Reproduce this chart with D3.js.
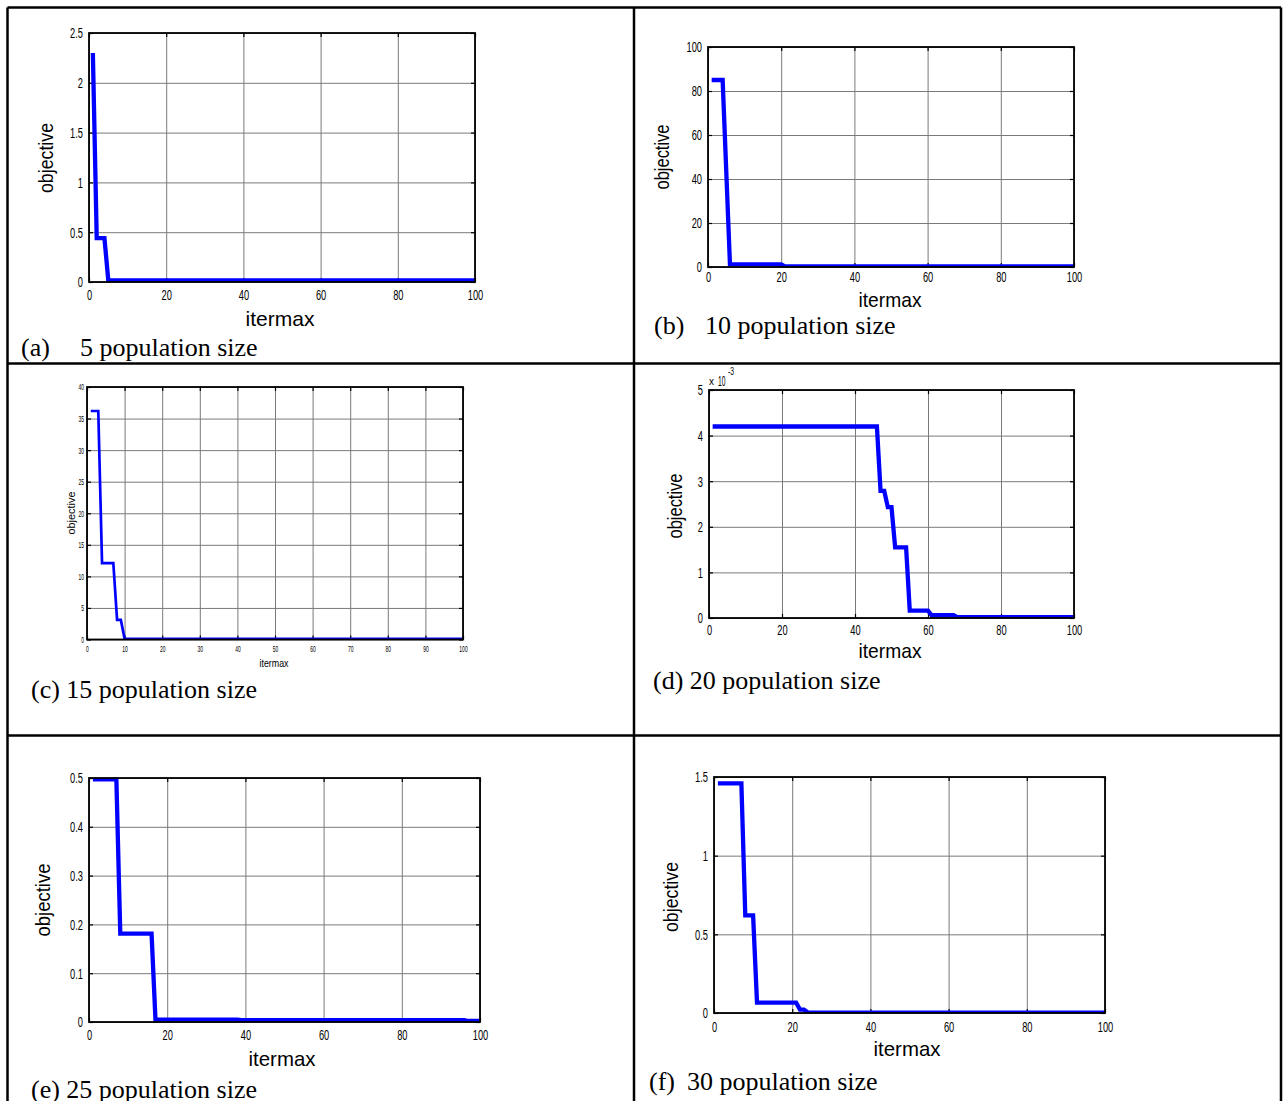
<!DOCTYPE html>
<html><head><meta charset="utf-8">
<script src="https://cdn.jsdelivr.net/npm/d3@7"></script>
<style>html,body{margin:0;padding:0;background:#fff;} svg{display:block}</style>
</head><body>
<svg id="chart" width="1286" height="1101"></svg>
<script>
// ---------------- data ----------------
const iterA = [1, 2, 4, 5, 100];
const objA  = [2.3, 0.44, 0.44, 0.015, 0.015];

const iterB = [1, 4, 6, 20, 21, 100];
const objB  = [85, 85, 1.2, 1.2, 0.3, 0.3];

const iterC = [1, 3, 4, 7, 8, 9, 10, 100];
const objC  = [36.2, 36.2, 12.1, 12.1, 3.1, 3.1, 0.1, 0.1];

const iterD = [1, 46, 47, 48, 49, 50, 51, 54, 55, 60, 61, 67, 68, 100];
const objD  = [4.2, 4.2, 2.79, 2.79, 2.43, 2.43, 1.55, 1.55, 0.16, 0.16, 0.06, 0.06, 0.02, 0.02]; // x 10^-3

const iterE = [1, 7, 8, 16, 17, 38, 39, 96, 97, 100];
const objE  = [0.497, 0.497, 0.181, 0.181, 0.005, 0.005, 0.004, 0.004, 0.002, 0.002];

const iterF = [1, 7, 8, 10, 11, 21, 22, 23, 24, 100];
const objF  = [1.46, 1.46, 0.62, 0.62, 0.066, 0.066, 0.022, 0.022, 0.003, 0.003];

const xTicks20 = [0, 20, 40, 60, 80, 100];
const xTicks10 = [0, 10, 20, 30, 40, 50, 60, 70, 80, 90, 100];
const yTicksA = [0, 0.5, 1, 1.5, 2, 2.5];
const yTicksB = [0, 20, 40, 60, 80, 100];
const yTicksC = [0, 5, 10, 15, 20, 25, 30, 35, 40];
const yTicksD = [0, 1, 2, 3, 4, 5];
const yTicksE = [0, 0.1, 0.2, 0.3, 0.4, 0.5];
const yTicksF = [0, 0.5, 1, 1.5];

const captionTags  = ["(a)", "(b)", "(c)", "(d)", "(e)", "(f)"];
const captionTexts = ["5 population size", "10 population size", "15 population size",
                      "20 population size", "25 population size", "30 population size"];
const xTitle = "itermax";
const yTitle = "objective";

// ---------------- layout ----------------
const svg = d3.select("#chart");
const SANS = "'Liberation Sans', Arial, sans-serif";
const SERIF = "'Liberation Serif', 'Times New Roman', serif";
const GRID = "#7a7a7a";

const panels = [
  {iters: iterA, objs: objA, xt: xTicks20, yt: yTicksA, l: 89, r: 475, t: 33, b: 282,
   ylab: [46, 158, 70], xlab: [280, 326, 69], tickB: 300, fs: 15, lfs: 21, ratio: 0.62, lw: 4.3, yPad: 6,
   cap: [21, 80, 356], k: 0},
  {iters: iterB, objs: objB, xt: xTicks20, yt: yTicksB, l: 708, r: 1074, t: 47, b: 267,
   ylab: [662, 157, 65], xlab: [890, 307, 63], tickB: 282, fs: 15, lfs: 21, ratio: 0.62, lw: 4.3, yPad: 6,
   cap: [654, 705, 334], k: 1},
  {iters: iterC, objs: objC, xt: xTicks10, yt: yTicksC, l: 87, r: 463, t: 387, b: 639.5,
   ylab: [71, 513, 43], xlab: [274, 667, 29], tickB: 652, fs: 9, lfs: 11, ratio: 0.55, lw: 2.7, yPad: 3,
   cap: [31, null, 698], k: 2},
  {iters: iterD, objs: objD, xt: xTicks20, yt: yTicksD, l: 709, r: 1074, t: 390, b: 618,
   ylab: [675, 506, 65], xlab: [890, 658, 63], tickB: 635, fs: 15, lfs: 21, ratio: 0.62, lw: 4.3, yPad: 6,
   cap: [653, null, 689], k: 3, exp: true},
  {iters: iterE, objs: objE, xt: xTicks20, yt: yTicksE, l: 89, r: 480, t: 778, b: 1022,
   ylab: [43, 900, 73], xlab: [282, 1066, 67], tickB: 1040, fs: 15, lfs: 21, ratio: 0.62, lw: 4.3, yPad: 6,
   cap: [31, null, 1098], k: 4},
  {iters: iterF, objs: objF, xt: xTicks20, yt: yTicksF, l: 714, r: 1105, t: 777, b: 1013,
   ylab: [671, 897, 70], xlab: [907, 1056, 67], tickB: 1032, fs: 15, lfs: 21, ratio: 0.62, lw: 4.3, yPad: 6,
   cap: [649, 687, 1090], k: 5}
];

function condense(sel, ratio) {
  sel.each(function () {
    const L = this.getComputedTextLength();
    this.setAttribute("textLength", (L * ratio).toFixed(2));
    this.setAttribute("lengthAdjust", "spacingAndGlyphs");
  });
}

// table frame
const frame = svg.append("g").attr("stroke", "#000").attr("stroke-width", 2.5);
[[7.5, 7.5, 1281, 7.5], [7.5, 363.5, 1281, 363.5], [7.5, 735.5, 1281, 735.5],
 [7.5, 7.5, 7.5, 1101], [634, 7.5, 634, 1101], [1281, 7.5, 1281, 1101]]
  .forEach(c => frame.append("line").attr("x1", c[0]).attr("y1", c[1]).attr("x2", c[2]).attr("y2", c[3]));

panels.forEach(p => {
  const x = d3.scaleLinear().domain([0, 100]).range([p.l, p.r]);
  const y = d3.scaleLinear().domain([p.yt[0], p.yt[p.yt.length - 1]]).range([p.b, p.t]);
  const w = p.r - p.l, h = p.b - p.t;
  const g = svg.append("g");

  // grid
  g.append("g").attr("transform", `translate(0,${p.b})`)
    .call(d3.axisBottom(x).tickValues(p.xt).tickSize(-h).tickFormat(""))
    .call(s => { s.select(".domain").remove(); s.selectAll("line").attr("stroke", GRID).attr("stroke-width", 1); });
  g.append("g").attr("transform", `translate(${p.l},0)`)
    .call(d3.axisLeft(y).tickValues(p.yt).tickSize(-w).tickFormat(""))
    .call(s => { s.select(".domain").remove(); s.selectAll("line").attr("stroke", GRID).attr("stroke-width", 1); });

  // inward tick marks on all four sides
  const tk = 4;
  const tickStyle = s => { s.select(".domain").remove(); s.selectAll("line").attr("stroke", "#000").attr("stroke-width", 1.2); };
  g.append("g").attr("transform", `translate(0,${p.b})`).call(d3.axisBottom(x).tickValues(p.xt).tickSize(-tk).tickFormat("")).call(tickStyle);
  g.append("g").attr("transform", `translate(0,${p.t})`).call(d3.axisTop(x).tickValues(p.xt).tickSize(-tk).tickFormat("")).call(tickStyle);
  g.append("g").attr("transform", `translate(${p.l},0)`).call(d3.axisLeft(y).tickValues(p.yt).tickSize(-tk).tickFormat("")).call(tickStyle);
  g.append("g").attr("transform", `translate(${p.r},0)`).call(d3.axisRight(y).tickValues(p.yt).tickSize(-tk).tickFormat("")).call(tickStyle);

  // data line
  const clipId = "clip" + p.k;
  g.append("clipPath").attr("id", clipId).append("rect")
    .attr("x", p.l).attr("y", p.t).attr("width", w).attr("height", h);
  g.append("path")
    .datum(d3.zip(p.iters, p.objs))
    .attr("clip-path", `url(#${clipId})`)
    .attr("d", d3.line().x(d => x(d[0])).y(d => y(d[1])))
    .attr("fill", "none").attr("stroke", "#0000ff").attr("stroke-width", p.lw)
    .attr("stroke-linejoin", "miter").attr("stroke-linecap", "butt");

  // axes box
  g.append("rect").attr("x", p.l).attr("y", p.t).attr("width", w).attr("height", h)
    .attr("fill", "none").attr("stroke", "#000").attr("stroke-width", 1.8);

  // x tick labels
  const xa = g.append("g").attr("transform", `translate(0,${p.b})`)
    .call(d3.axisBottom(x).tickValues(p.xt).tickSize(0)
      .tickPadding(p.tickB - p.b - 0.71 * p.fs).tickFormat(d => String(d)));
  xa.select(".domain").remove();
  xa.attr("font-family", SANS).attr("font-size", p.fs);
  xa.selectAll("text").attr("fill", "#000");
  condense(xa.selectAll("text"), p.ratio);

  // y tick labels
  const ya = g.append("g").attr("transform", `translate(${p.l},0)`)
    .call(d3.axisLeft(y).tickValues(p.yt).tickSize(0).tickPadding(p.yPad).tickFormat(d => String(d)));
  ya.select(".domain").remove();
  ya.attr("font-family", SANS).attr("font-size", p.fs);
  ya.selectAll("text").attr("fill", "#000");
  condense(ya.selectAll("text"), p.ratio);

  // exponent label for panel (d)
  if (p.exp) {
    const et = g.append("text").attr("font-family", SANS).attr("fill", "#000");
    et.append("tspan").attr("x", p.l).attr("y", p.t - 5).attr("font-size", 10).text("x");
    et.append("tspan").attr("x", p.l + 9).attr("y", p.t - 4).attr("font-size", 14)
      .attr("textLength", 7.5).attr("lengthAdjust", "spacingAndGlyphs").text("10");
    et.append("tspan").attr("x", p.l + 19).attr("y", p.t - 15).attr("font-size", 10)
      .attr("textLength", 6).attr("lengthAdjust", "spacingAndGlyphs").text("-3");
  }

  // axis titles
  g.append("text")
    .attr("transform", `translate(${p.ylab[0]},${p.ylab[1]}) rotate(-90)`)
    .attr("text-anchor", "middle").attr("dy", "0.35em")
    .attr("font-family", SANS).attr("font-size", p.lfs).attr("fill", "#000")
    .attr("textLength", p.ylab[2]).attr("lengthAdjust", "spacingAndGlyphs")
    .text(yTitle);
  g.append("text")
    .attr("x", p.xlab[0]).attr("y", p.xlab[1])
    .attr("text-anchor", "middle")
    .attr("font-family", SANS).attr("font-size", p.lfs).attr("fill", "#000")
    .attr("textLength", p.xlab[2]).attr("lengthAdjust", "spacingAndGlyphs")
    .text(xTitle);

  // caption
  const ct = g.append("text").attr("y", p.cap[2])
    .attr("font-family", SERIF).attr("font-size", 26).attr("fill", "#000")
    .style("white-space", "pre");
  ct.append("tspan").attr("x", p.cap[0]).text(captionTags[p.k]);
  if (p.cap[1] !== null) {
    ct.append("tspan").attr("x", p.cap[1]).text(captionTexts[p.k]);
  } else {
    ct.append("tspan").text(" " + captionTexts[p.k]);
  }
});
</script>
</body></html>
